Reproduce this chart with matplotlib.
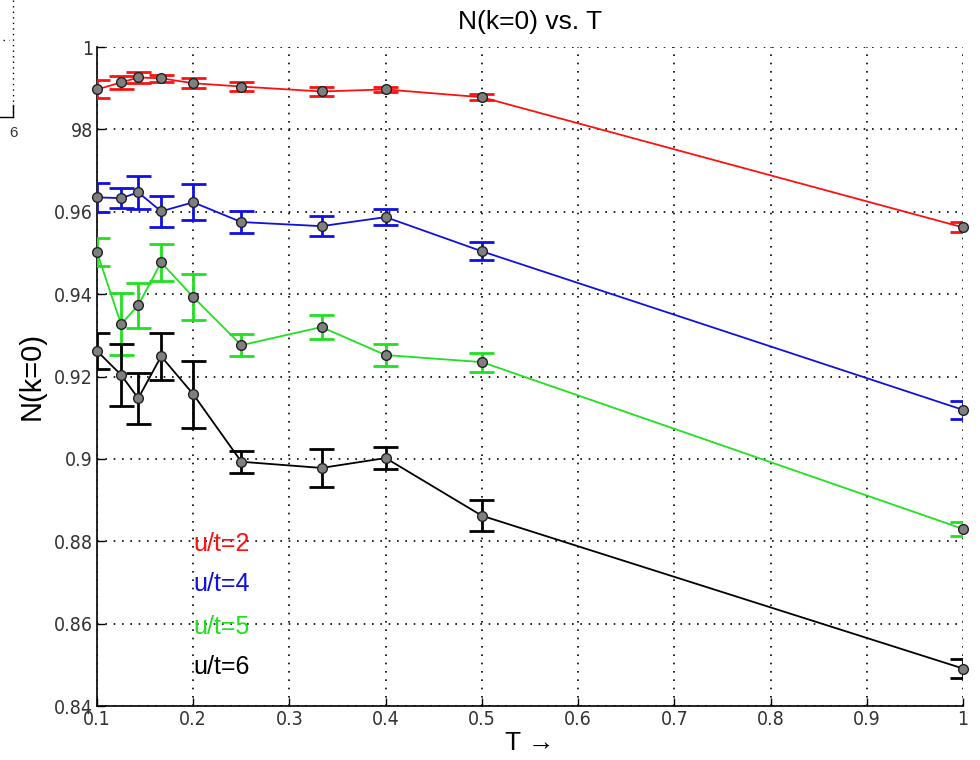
import matplotlib
matplotlib.use("Agg")
import matplotlib.pyplot as plt
from matplotlib.lines import Line2D
import numpy as np

# temperatures (T = 1/beta)
T = [0.1, 0.125, 1/7, 1/6, 0.2, 0.25, 1/3, 0.4, 0.5, 1.0]

# N(k=0) for each u/t, with error bars
n_u2 = [0.9897, 0.9914, 0.9926, 0.9924, 0.9912, 0.9904, 0.9892, 0.9897, 0.9878, 0.9562]
e_u2 = [0.0022, 0.0015, 0.0014, 0.0008, 0.0012, 0.0010, 0.0012, 0.0007, 0.0007, 0.0012]
n_u4 = [0.9635, 0.9633, 0.9647, 0.9601, 0.9623, 0.9575, 0.9565, 0.9587, 0.9504, 0.9119]
e_u4 = [0.0036, 0.0025, 0.0040, 0.0038, 0.0044, 0.0027, 0.0025, 0.0020, 0.0022, 0.0021]
n_u5 = [0.9502, 0.9327, 0.9373, 0.9477, 0.9393, 0.9276, 0.9320, 0.9252, 0.9235, 0.8830]
e_u5 = [0.0034, 0.0075, 0.0055, 0.0044, 0.0055, 0.0027, 0.0030, 0.0026, 0.0023, 0.0017]
n_u6 = [0.9262, 0.9204, 0.9147, 0.9249, 0.9157, 0.8993, 0.8978, 0.9002, 0.8862, 0.8491]
e_u6 = [0.0044, 0.0075, 0.0062, 0.0057, 0.0081, 0.0027, 0.0046, 0.0027, 0.0038, 0.0023]

labels = ["u/t=2", "u/t=4", "u/t=5", "u/t=6"]
colors = ["#ff1010", "#1010e0", "#20e020", "#000000"]
label_y = [0.8793, 0.8697, 0.8593, 0.8494]

xticks = [0.1, 0.2, 0.3, 0.4, 0.5, 0.6, 0.7, 0.8, 0.9, 1.0]
xticklabels = ["0.1", "0.2", "0.3", "0.4", "0.5", "0.6", "0.7", "0.8", "0.9", "1"]
yticks = [0.84, 0.86, 0.88, 0.90, 0.92, 0.94, 0.96, 0.98, 1.0]
yticklabels = ["0.84", "0.86", "0.88", "0.9", "0.92", "0.94", "0.96", "98", "1"]

CAP = 0.013  # half width of error bar caps, in T units

plt.rcParams['font.family'] = ['Liberation Sans', 'DejaVu Sans']

fig = plt.figure(figsize=(9.8, 7.6), dpi=100)
ax = fig.add_axes([97/980, 54/760, 866/980, 659/760])

series = [(n_u2, e_u2), (n_u4, e_u4), (n_u5, e_u5), (n_u6, e_u6)]
for (vals, errs), c in zip(series, colors):
    x = np.array(T)
    v = np.array(vals)
    e = np.array(errs)
    # error bars with caps drawn as clipped segments (clipped at the axes edge)
    ax.vlines(x, v - e, v + e, color=c, lw=2, zorder=3)
    ax.hlines(v - e, x - CAP, x + CAP, color=c, lw=2, zorder=3)
    ax.hlines(v + e, x - CAP, x + CAP, color=c, lw=2, zorder=3)
    ax.plot(x, v, '-', color=c, lw=1.3, zorder=4)
    ax.plot(x, v, 'o', ms=7, mfc="#7f7f7f", mec="#202020", mew=1.0,
            clip_on=False, zorder=5)

for lab, c, y in zip(labels, colors, label_y):
    ax.text(0.2, y, lab, color=c, fontsize=18, ha='left', va='center')

ax.set_xlim(0.1, 1.0)
ax.set_ylim(0.84, 1.0)
ax.set_xticks(xticks)
ax.set_xticklabels(xticklabels)
ax.set_yticks(yticks)
ax.set_yticklabels(yticklabels)
for lab in ax.get_xticklabels() + ax.get_yticklabels():
    lab.set_family(['DejaVu Sans'])
    lab.set_stretch('condensed')
    lab.set_fontsize(14)
    lab.set_color("#333333")
ax.tick_params(direction='in', length=6, width=1, pad=3)

ax.grid(True, color='black', linestyle=(0, (1, 4)), linewidth=1.2)
ax.spines['top'].set_visible(False)
ax.spines['right'].set_visible(False)
ax.spines['left'].set_linewidth(1.2)
ax.spines['bottom'].set_linewidth(1.2)

ax.set_title("N(k=0) vs. T", fontsize=19, pad=13)
ax.set_xlabel("T \u2192", fontsize=19, labelpad=1)
ax.set_ylabel("N(k=0)", fontsize=21, labelpad=6)

# leftover fragment of a neighbouring plot in the top-left corner
fig.add_artist(Line2D([13/980, 13/980], [1.0, 643/760], color='black', lw=1,
                      linestyle=(0, (1, 3)), transform=fig.transFigure))
fig.add_artist(Line2D([13/980, 13/980], [655/760, 643/760], color='black', lw=1,
                      transform=fig.transFigure))
fig.add_artist(Line2D([0, 13/980], [643/760, 643/760], color='black', lw=1,
                      transform=fig.transFigure))
fig.add_artist(Line2D([3/980, 9/980], [720/760, 720/760], color='black', lw=1,
                      linestyle=(0, (1, 3)), transform=fig.transFigure))
fig.text(13/980, 627/760, "6", fontsize=11, color="#333333", ha='center', va='center')

fig.savefig("out.png", dpi=100)
